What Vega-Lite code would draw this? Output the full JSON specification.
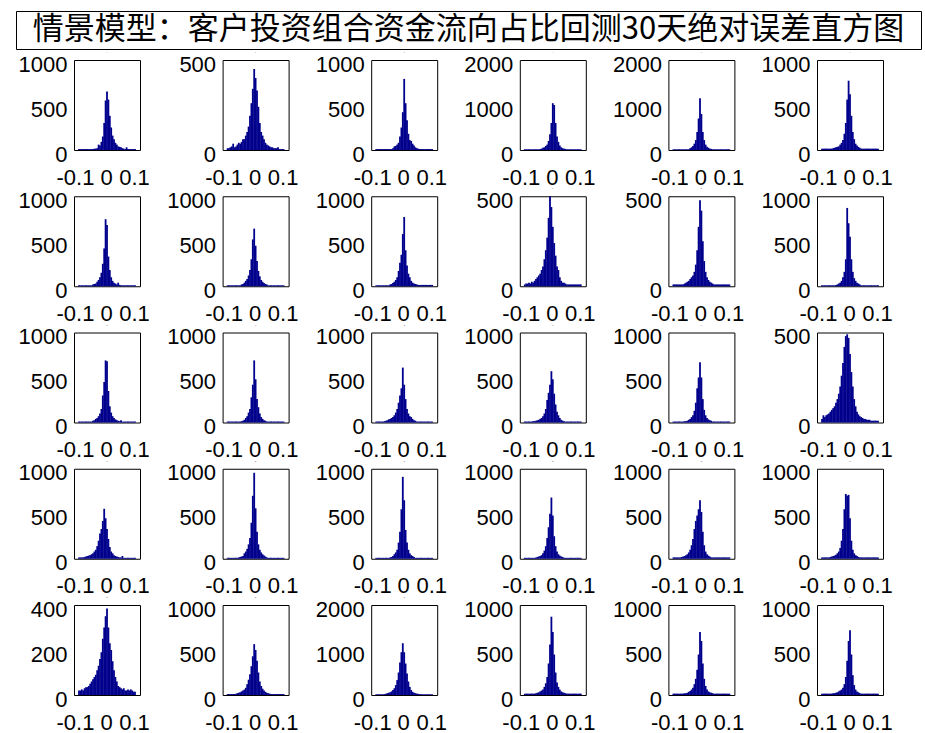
{
"$schema": "https://vega.github.io/schema/vega-lite/v6.json",
"padding": {"left": 15, "top": 10, "right": 0, "bottom": 0},
"bounds": "full",
"align": "none",
"columns": 1,
"spacing": 1,
"datasets": {
"h": [
{"p":1,"x":-0.1,"c":10},{"p":1,"x":-0.095,"c":10},{"p":1,"x":-0.09,"c":10},{"p":1,"x":-0.085,"c":10},{"p":1,"x":-0.08,"c":10},{"p":1,"x":-0.075,"c":10},{"p":1,"x":-0.07,"c":10},{"p":1,"x":-0.065,"c":10},{"p":1,"x":-0.06,"c":10},{"p":1,"x":-0.055,"c":10},{"p":1,"x":-0.05,"c":10},{"p":1,"x":-0.045,"c":15},{"p":1,"x":-0.04,"c":15},{"p":1,"x":-0.035,"c":20},{"p":1,"x":-0.03,"c":60},{"p":1,"x":-0.025,"c":50},{"p":1,"x":-0.02,"c":90},{"p":1,"x":-0.015,"c":150},{"p":1,"x":-0.01,"c":300},{"p":1,"x":-0.005,"c":550},{"p":1,"x":0,"c":650},{"p":1,"x":0.005,"c":560},{"p":1,"x":0.01,"c":380},{"p":1,"x":0.015,"c":250},{"p":1,"x":0.02,"c":160},{"p":1,"x":0.025,"c":120},{"p":1,"x":0.03,"c":80},{"p":1,"x":0.035,"c":60},{"p":1,"x":0.04,"c":40},{"p":1,"x":0.045,"c":35},{"p":1,"x":0.05,"c":30},{"p":1,"x":0.055,"c":20},{"p":1,"x":0.06,"c":15},{"p":1,"x":0.065,"c":10},{"p":1,"x":0.07,"c":30},{"p":1,"x":0.075,"c":10},{"p":1,"x":0.08,"c":10},{"p":1,"x":0.085,"c":10},{"p":1,"x":0.09,"c":10},{"p":1,"x":0.095,"c":10},{"p":1,"x":0.1,"c":10},
{"p":2,"x":-0.1,"c":10},{"p":2,"x":-0.095,"c":10},{"p":2,"x":-0.09,"c":15},{"p":2,"x":-0.085,"c":20},{"p":2,"x":-0.08,"c":35},{"p":2,"x":-0.075,"c":15},{"p":2,"x":-0.07,"c":20},{"p":2,"x":-0.065,"c":30},{"p":2,"x":-0.06,"c":40},{"p":2,"x":-0.055,"c":35},{"p":2,"x":-0.05,"c":45},{"p":2,"x":-0.045,"c":60},{"p":2,"x":-0.04,"c":60},{"p":2,"x":-0.035,"c":80},{"p":2,"x":-0.03,"c":100},{"p":2,"x":-0.025,"c":130},{"p":2,"x":-0.02,"c":190},{"p":2,"x":-0.015,"c":260},{"p":2,"x":-0.01,"c":340},{"p":2,"x":-0.005,"c":450},{"p":2,"x":0,"c":400},{"p":2,"x":0.005,"c":330},{"p":2,"x":0.01,"c":240},{"p":2,"x":0.015,"c":150},{"p":2,"x":0.02,"c":100},{"p":2,"x":0.025,"c":80},{"p":2,"x":0.03,"c":60},{"p":2,"x":0.035,"c":40},{"p":2,"x":0.04,"c":30},{"p":2,"x":0.045,"c":25},{"p":2,"x":0.05,"c":20},{"p":2,"x":0.055,"c":15},{"p":2,"x":0.06,"c":15},{"p":2,"x":0.065,"c":10},{"p":2,"x":0.07,"c":10},{"p":2,"x":0.075,"c":10},{"p":2,"x":0.08,"c":15},{"p":2,"x":0.085,"c":5},{"p":2,"x":0.09,"c":5},{"p":2,"x":0.095,"c":5},{"p":2,"x":0.1,"c":5},
{"p":3,"x":-0.1,"c":10},{"p":3,"x":-0.095,"c":10},{"p":3,"x":-0.09,"c":10},{"p":3,"x":-0.085,"c":10},{"p":3,"x":-0.08,"c":10},{"p":3,"x":-0.075,"c":10},{"p":3,"x":-0.07,"c":10},{"p":3,"x":-0.065,"c":10},{"p":3,"x":-0.06,"c":10},{"p":3,"x":-0.055,"c":10},{"p":3,"x":-0.05,"c":10},{"p":3,"x":-0.045,"c":10},{"p":3,"x":-0.04,"c":20},{"p":3,"x":-0.035,"c":40},{"p":3,"x":-0.03,"c":45},{"p":3,"x":-0.025,"c":60},{"p":3,"x":-0.02,"c":80},{"p":3,"x":-0.015,"c":150},{"p":3,"x":-0.01,"c":250},{"p":3,"x":-0.005,"c":420},{"p":3,"x":0,"c":790},{"p":3,"x":0.005,"c":520},{"p":3,"x":0.01,"c":330},{"p":3,"x":0.015,"c":180},{"p":3,"x":0.02,"c":110},{"p":3,"x":0.025,"c":100},{"p":3,"x":0.03,"c":70},{"p":3,"x":0.035,"c":50},{"p":3,"x":0.04,"c":30},{"p":3,"x":0.045,"c":20},{"p":3,"x":0.05,"c":15},{"p":3,"x":0.055,"c":10},{"p":3,"x":0.06,"c":10},{"p":3,"x":0.065,"c":10},{"p":3,"x":0.07,"c":10},{"p":3,"x":0.075,"c":10},{"p":3,"x":0.08,"c":10},{"p":3,"x":0.085,"c":10},{"p":3,"x":0.09,"c":10},{"p":3,"x":0.095,"c":10},{"p":3,"x":0.1,"c":10},
{"p":4,"x":-0.1,"c":15},{"p":4,"x":-0.095,"c":15},{"p":4,"x":-0.09,"c":15},{"p":4,"x":-0.085,"c":15},{"p":4,"x":-0.08,"c":15},{"p":4,"x":-0.075,"c":15},{"p":4,"x":-0.07,"c":15},{"p":4,"x":-0.065,"c":15},{"p":4,"x":-0.06,"c":15},{"p":4,"x":-0.055,"c":15},{"p":4,"x":-0.05,"c":15},{"p":4,"x":-0.045,"c":20},{"p":4,"x":-0.04,"c":30},{"p":4,"x":-0.035,"c":50},{"p":4,"x":-0.03,"c":60},{"p":4,"x":-0.025,"c":90},{"p":4,"x":-0.02,"c":120},{"p":4,"x":-0.015,"c":200},{"p":4,"x":-0.01,"c":350},{"p":4,"x":-0.005,"c":600},{"p":4,"x":0,"c":1040},{"p":4,"x":0.005,"c":1000},{"p":4,"x":0.01,"c":600},{"p":4,"x":0.015,"c":300},{"p":4,"x":0.02,"c":180},{"p":4,"x":0.025,"c":100},{"p":4,"x":0.03,"c":60},{"p":4,"x":0.035,"c":40},{"p":4,"x":0.04,"c":30},{"p":4,"x":0.045,"c":25},{"p":4,"x":0.05,"c":15},{"p":4,"x":0.055,"c":15},{"p":4,"x":0.06,"c":15},{"p":4,"x":0.065,"c":15},{"p":4,"x":0.07,"c":15},{"p":4,"x":0.075,"c":15},{"p":4,"x":0.08,"c":15},{"p":4,"x":0.085,"c":15},{"p":4,"x":0.09,"c":15},{"p":4,"x":0.095,"c":15},{"p":4,"x":0.1,"c":15},
{"p":5,"x":-0.1,"c":15},{"p":5,"x":-0.095,"c":15},{"p":5,"x":-0.09,"c":15},{"p":5,"x":-0.085,"c":15},{"p":5,"x":-0.08,"c":15},{"p":5,"x":-0.075,"c":15},{"p":5,"x":-0.07,"c":15},{"p":5,"x":-0.065,"c":15},{"p":5,"x":-0.06,"c":15},{"p":5,"x":-0.055,"c":15},{"p":5,"x":-0.05,"c":15},{"p":5,"x":-0.045,"c":15},{"p":5,"x":-0.04,"c":40},{"p":5,"x":-0.035,"c":60},{"p":5,"x":-0.03,"c":90},{"p":5,"x":-0.025,"c":140},{"p":5,"x":-0.02,"c":220},{"p":5,"x":-0.015,"c":400},{"p":5,"x":-0.01,"c":700},{"p":5,"x":-0.005,"c":1150},{"p":5,"x":0,"c":800},{"p":5,"x":0.005,"c":400},{"p":5,"x":0.01,"c":220},{"p":5,"x":0.015,"c":120},{"p":5,"x":0.02,"c":70},{"p":5,"x":0.025,"c":50},{"p":5,"x":0.03,"c":30},{"p":5,"x":0.035,"c":25},{"p":5,"x":0.04,"c":15},{"p":5,"x":0.045,"c":15},{"p":5,"x":0.05,"c":15},{"p":5,"x":0.055,"c":15},{"p":5,"x":0.06,"c":15},{"p":5,"x":0.065,"c":15},{"p":5,"x":0.07,"c":15},{"p":5,"x":0.075,"c":15},{"p":5,"x":0.08,"c":15},{"p":5,"x":0.085,"c":15},{"p":5,"x":0.09,"c":15},{"p":5,"x":0.095,"c":15},{"p":5,"x":0.1,"c":15},
{"p":6,"x":-0.1,"c":15},{"p":6,"x":-0.095,"c":15},{"p":6,"x":-0.09,"c":15},{"p":6,"x":-0.085,"c":15},{"p":6,"x":-0.08,"c":15},{"p":6,"x":-0.075,"c":15},{"p":6,"x":-0.07,"c":15},{"p":6,"x":-0.065,"c":15},{"p":6,"x":-0.06,"c":20},{"p":6,"x":-0.055,"c":25},{"p":6,"x":-0.05,"c":30},{"p":6,"x":-0.045,"c":35},{"p":6,"x":-0.04,"c":40},{"p":6,"x":-0.035,"c":60},{"p":6,"x":-0.03,"c":80},{"p":6,"x":-0.025,"c":110},{"p":6,"x":-0.02,"c":180},{"p":6,"x":-0.015,"c":300},{"p":6,"x":-0.01,"c":560},{"p":6,"x":-0.005,"c":770},{"p":6,"x":0,"c":620},{"p":6,"x":0.005,"c":380},{"p":6,"x":0.01,"c":200},{"p":6,"x":0.015,"c":120},{"p":6,"x":0.02,"c":70},{"p":6,"x":0.025,"c":50},{"p":6,"x":0.03,"c":35},{"p":6,"x":0.035,"c":25},{"p":6,"x":0.04,"c":15},{"p":6,"x":0.045,"c":15},{"p":6,"x":0.05,"c":15},{"p":6,"x":0.055,"c":15},{"p":6,"x":0.06,"c":15},{"p":6,"x":0.065,"c":15},{"p":6,"x":0.07,"c":15},{"p":6,"x":0.075,"c":15},{"p":6,"x":0.08,"c":15},{"p":6,"x":0.085,"c":15},{"p":6,"x":0.09,"c":15},{"p":6,"x":0.095,"c":15},{"p":6,"x":0.1,"c":15},
{"p":7,"x":-0.1,"c":10},{"p":7,"x":-0.095,"c":10},{"p":7,"x":-0.09,"c":10},{"p":7,"x":-0.085,"c":10},{"p":7,"x":-0.08,"c":10},{"p":7,"x":-0.075,"c":10},{"p":7,"x":-0.07,"c":10},{"p":7,"x":-0.065,"c":10},{"p":7,"x":-0.06,"c":10},{"p":7,"x":-0.055,"c":10},{"p":7,"x":-0.05,"c":20},{"p":7,"x":-0.045,"c":25},{"p":7,"x":-0.04,"c":30},{"p":7,"x":-0.035,"c":50},{"p":7,"x":-0.03,"c":70},{"p":7,"x":-0.025,"c":100},{"p":7,"x":-0.02,"c":150},{"p":7,"x":-0.015,"c":250},{"p":7,"x":-0.01,"c":420},{"p":7,"x":-0.005,"c":745},{"p":7,"x":0,"c":680},{"p":7,"x":0.005,"c":330},{"p":7,"x":0.01,"c":180},{"p":7,"x":0.015,"c":100},{"p":7,"x":0.02,"c":60},{"p":7,"x":0.025,"c":40},{"p":7,"x":0.03,"c":30},{"p":7,"x":0.035,"c":20},{"p":7,"x":0.04,"c":40},{"p":7,"x":0.045,"c":15},{"p":7,"x":0.05,"c":10},{"p":7,"x":0.055,"c":10},{"p":7,"x":0.06,"c":10},{"p":7,"x":0.065,"c":10},{"p":7,"x":0.07,"c":10},{"p":7,"x":0.075,"c":10},{"p":7,"x":0.08,"c":10},{"p":7,"x":0.085,"c":10},{"p":7,"x":0.09,"c":10},{"p":7,"x":0.095,"c":10},{"p":7,"x":0.1,"c":10},
{"p":8,"x":-0.1,"c":10},{"p":8,"x":-0.095,"c":10},{"p":8,"x":-0.09,"c":10},{"p":8,"x":-0.085,"c":10},{"p":8,"x":-0.08,"c":10},{"p":8,"x":-0.075,"c":10},{"p":8,"x":-0.07,"c":10},{"p":8,"x":-0.065,"c":10},{"p":8,"x":-0.06,"c":10},{"p":8,"x":-0.055,"c":10},{"p":8,"x":-0.05,"c":20},{"p":8,"x":-0.045,"c":25},{"p":8,"x":-0.04,"c":40},{"p":8,"x":-0.035,"c":60},{"p":8,"x":-0.03,"c":80},{"p":8,"x":-0.025,"c":120},{"p":8,"x":-0.02,"c":180},{"p":8,"x":-0.015,"c":300},{"p":8,"x":-0.01,"c":520},{"p":8,"x":-0.005,"c":640},{"p":8,"x":0,"c":450},{"p":8,"x":0.005,"c":280},{"p":8,"x":0.01,"c":170},{"p":8,"x":0.015,"c":110},{"p":8,"x":0.02,"c":70},{"p":8,"x":0.025,"c":50},{"p":8,"x":0.03,"c":35},{"p":8,"x":0.035,"c":25},{"p":8,"x":0.04,"c":20},{"p":8,"x":0.045,"c":10},{"p":8,"x":0.05,"c":10},{"p":8,"x":0.055,"c":10},{"p":8,"x":0.06,"c":10},{"p":8,"x":0.065,"c":10},{"p":8,"x":0.07,"c":10},{"p":8,"x":0.075,"c":10},{"p":8,"x":0.08,"c":10},{"p":8,"x":0.085,"c":10},{"p":8,"x":0.09,"c":10},{"p":8,"x":0.095,"c":10},{"p":8,"x":0.1,"c":10},
{"p":9,"x":-0.1,"c":10},{"p":9,"x":-0.095,"c":10},{"p":9,"x":-0.09,"c":10},{"p":9,"x":-0.085,"c":10},{"p":9,"x":-0.08,"c":10},{"p":9,"x":-0.075,"c":10},{"p":9,"x":-0.07,"c":10},{"p":9,"x":-0.065,"c":10},{"p":9,"x":-0.06,"c":10},{"p":9,"x":-0.055,"c":10},{"p":9,"x":-0.05,"c":20},{"p":9,"x":-0.045,"c":25},{"p":9,"x":-0.04,"c":35},{"p":9,"x":-0.035,"c":50},{"p":9,"x":-0.03,"c":70},{"p":9,"x":-0.025,"c":100},{"p":9,"x":-0.02,"c":170},{"p":9,"x":-0.015,"c":260},{"p":9,"x":-0.01,"c":350},{"p":9,"x":-0.005,"c":580},{"p":9,"x":0,"c":770},{"p":9,"x":0.005,"c":400},{"p":9,"x":0.01,"c":230},{"p":9,"x":0.015,"c":140},{"p":9,"x":0.02,"c":100},{"p":9,"x":0.025,"c":60},{"p":9,"x":0.03,"c":40},{"p":9,"x":0.035,"c":30},{"p":9,"x":0.04,"c":25},{"p":9,"x":0.045,"c":20},{"p":9,"x":0.05,"c":15},{"p":9,"x":0.055,"c":15},{"p":9,"x":0.06,"c":15},{"p":9,"x":0.065,"c":15},{"p":9,"x":0.07,"c":15},{"p":9,"x":0.075,"c":15},{"p":9,"x":0.08,"c":15},{"p":9,"x":0.085,"c":15},{"p":9,"x":0.09,"c":15},{"p":9,"x":0.095,"c":15},{"p":9,"x":0.1,"c":15},
{"p":10,"x":-0.1,"c":10},{"p":10,"x":-0.095,"c":15},{"p":10,"x":-0.09,"c":15},{"p":10,"x":-0.085,"c":20},{"p":10,"x":-0.08,"c":15},{"p":10,"x":-0.075,"c":25},{"p":10,"x":-0.07,"c":20},{"p":10,"x":-0.065,"c":30},{"p":10,"x":-0.06,"c":40},{"p":10,"x":-0.055,"c":50},{"p":10,"x":-0.05,"c":60},{"p":10,"x":-0.045,"c":70},{"p":10,"x":-0.04,"c":90},{"p":10,"x":-0.035,"c":110},{"p":10,"x":-0.03,"c":150},{"p":10,"x":-0.025,"c":200},{"p":10,"x":-0.02,"c":270},{"p":10,"x":-0.015,"c":380},{"p":10,"x":-0.01,"c":500},{"p":10,"x":-0.005,"c":440},{"p":10,"x":0,"c":330},{"p":10,"x":0.005,"c":240},{"p":10,"x":0.01,"c":170},{"p":10,"x":0.015,"c":110},{"p":10,"x":0.02,"c":90},{"p":10,"x":0.025,"c":50},{"p":10,"x":0.03,"c":30},{"p":10,"x":0.035,"c":20},{"p":10,"x":0.04,"c":20},{"p":10,"x":0.045,"c":15},{"p":10,"x":0.05,"c":10},{"p":10,"x":0.055,"c":10},{"p":10,"x":0.06,"c":10},{"p":10,"x":0.065,"c":10},{"p":10,"x":0.07,"c":10},{"p":10,"x":0.075,"c":10},{"p":10,"x":0.08,"c":10},{"p":10,"x":0.085,"c":10},{"p":10,"x":0.09,"c":10},{"p":10,"x":0.095,"c":10},{"p":10,"x":0.1,"c":10},
{"p":11,"x":-0.1,"c":10},{"p":11,"x":-0.095,"c":10},{"p":11,"x":-0.09,"c":10},{"p":11,"x":-0.085,"c":10},{"p":11,"x":-0.08,"c":10},{"p":11,"x":-0.075,"c":10},{"p":11,"x":-0.07,"c":10},{"p":11,"x":-0.065,"c":10},{"p":11,"x":-0.06,"c":15},{"p":11,"x":-0.055,"c":20},{"p":11,"x":-0.05,"c":25},{"p":11,"x":-0.045,"c":30},{"p":11,"x":-0.04,"c":40},{"p":11,"x":-0.035,"c":50},{"p":11,"x":-0.03,"c":60},{"p":11,"x":-0.025,"c":80},{"p":11,"x":-0.02,"c":120},{"p":11,"x":-0.015,"c":200},{"p":11,"x":-0.01,"c":330},{"p":11,"x":-0.005,"c":478},{"p":11,"x":0,"c":420},{"p":11,"x":0.005,"c":250},{"p":11,"x":0.01,"c":140},{"p":11,"x":0.015,"c":80},{"p":11,"x":0.02,"c":50},{"p":11,"x":0.025,"c":35},{"p":11,"x":0.03,"c":25},{"p":11,"x":0.035,"c":20},{"p":11,"x":0.04,"c":15},{"p":11,"x":0.045,"c":10},{"p":11,"x":0.05,"c":10},{"p":11,"x":0.055,"c":10},{"p":11,"x":0.06,"c":10},{"p":11,"x":0.065,"c":10},{"p":11,"x":0.07,"c":10},{"p":11,"x":0.075,"c":10},{"p":11,"x":0.08,"c":10},{"p":11,"x":0.085,"c":10},{"p":11,"x":0.09,"c":10},{"p":11,"x":0.095,"c":10},{"p":11,"x":0.1,"c":10},
{"p":12,"x":-0.1,"c":10},{"p":12,"x":-0.095,"c":10},{"p":12,"x":-0.09,"c":10},{"p":12,"x":-0.085,"c":10},{"p":12,"x":-0.08,"c":10},{"p":12,"x":-0.075,"c":10},{"p":12,"x":-0.07,"c":10},{"p":12,"x":-0.065,"c":10},{"p":12,"x":-0.06,"c":10},{"p":12,"x":-0.055,"c":10},{"p":12,"x":-0.05,"c":15},{"p":12,"x":-0.045,"c":20},{"p":12,"x":-0.04,"c":30},{"p":12,"x":-0.035,"c":40},{"p":12,"x":-0.03,"c":60},{"p":12,"x":-0.025,"c":100},{"p":12,"x":-0.02,"c":160},{"p":12,"x":-0.015,"c":300},{"p":12,"x":-0.01,"c":870},{"p":12,"x":-0.005,"c":700},{"p":12,"x":0,"c":550},{"p":12,"x":0.005,"c":300},{"p":12,"x":0.01,"c":160},{"p":12,"x":0.015,"c":90},{"p":12,"x":0.02,"c":60},{"p":12,"x":0.025,"c":40},{"p":12,"x":0.03,"c":30},{"p":12,"x":0.035,"c":20},{"p":12,"x":0.04,"c":10},{"p":12,"x":0.045,"c":10},{"p":12,"x":0.05,"c":10},{"p":12,"x":0.055,"c":10},{"p":12,"x":0.06,"c":10},{"p":12,"x":0.065,"c":10},{"p":12,"x":0.07,"c":10},{"p":12,"x":0.075,"c":10},{"p":12,"x":0.08,"c":10},{"p":12,"x":0.085,"c":10},{"p":12,"x":0.09,"c":10},{"p":12,"x":0.095,"c":10},{"p":12,"x":0.1,"c":10},
{"p":13,"x":-0.1,"c":10},{"p":13,"x":-0.095,"c":10},{"p":13,"x":-0.09,"c":10},{"p":13,"x":-0.085,"c":10},{"p":13,"x":-0.08,"c":10},{"p":13,"x":-0.075,"c":10},{"p":13,"x":-0.07,"c":10},{"p":13,"x":-0.065,"c":10},{"p":13,"x":-0.06,"c":10},{"p":13,"x":-0.055,"c":10},{"p":13,"x":-0.05,"c":20},{"p":13,"x":-0.045,"c":25},{"p":13,"x":-0.04,"c":40},{"p":13,"x":-0.035,"c":50},{"p":13,"x":-0.03,"c":70},{"p":13,"x":-0.025,"c":100},{"p":13,"x":-0.02,"c":150},{"p":13,"x":-0.015,"c":300},{"p":13,"x":-0.01,"c":450},{"p":13,"x":-0.005,"c":690},{"p":13,"x":0,"c":680},{"p":13,"x":0.005,"c":350},{"p":13,"x":0.01,"c":180},{"p":13,"x":0.015,"c":110},{"p":13,"x":0.02,"c":70},{"p":13,"x":0.025,"c":50},{"p":13,"x":0.03,"c":35},{"p":13,"x":0.035,"c":25},{"p":13,"x":0.04,"c":20},{"p":13,"x":0.045,"c":15},{"p":13,"x":0.05,"c":25},{"p":13,"x":0.055,"c":10},{"p":13,"x":0.06,"c":10},{"p":13,"x":0.065,"c":10},{"p":13,"x":0.07,"c":10},{"p":13,"x":0.075,"c":10},{"p":13,"x":0.08,"c":10},{"p":13,"x":0.085,"c":10},{"p":13,"x":0.09,"c":10},{"p":13,"x":0.095,"c":10},{"p":13,"x":0.1,"c":10},
{"p":14,"x":-0.1,"c":10},{"p":14,"x":-0.095,"c":10},{"p":14,"x":-0.09,"c":10},{"p":14,"x":-0.085,"c":10},{"p":14,"x":-0.08,"c":10},{"p":14,"x":-0.075,"c":10},{"p":14,"x":-0.07,"c":10},{"p":14,"x":-0.065,"c":10},{"p":14,"x":-0.06,"c":10},{"p":14,"x":-0.055,"c":10},{"p":14,"x":-0.05,"c":15},{"p":14,"x":-0.045,"c":20},{"p":14,"x":-0.04,"c":30},{"p":14,"x":-0.035,"c":50},{"p":14,"x":-0.03,"c":70},{"p":14,"x":-0.025,"c":110},{"p":14,"x":-0.02,"c":150},{"p":14,"x":-0.015,"c":280},{"p":14,"x":-0.01,"c":420},{"p":14,"x":-0.005,"c":690},{"p":14,"x":0,"c":480},{"p":14,"x":0.005,"c":260},{"p":14,"x":0.01,"c":170},{"p":14,"x":0.015,"c":100},{"p":14,"x":0.02,"c":60},{"p":14,"x":0.025,"c":40},{"p":14,"x":0.03,"c":25},{"p":14,"x":0.035,"c":20},{"p":14,"x":0.04,"c":10},{"p":14,"x":0.045,"c":10},{"p":14,"x":0.05,"c":10},{"p":14,"x":0.055,"c":10},{"p":14,"x":0.06,"c":10},{"p":14,"x":0.065,"c":10},{"p":14,"x":0.07,"c":10},{"p":14,"x":0.075,"c":10},{"p":14,"x":0.08,"c":10},{"p":14,"x":0.085,"c":10},{"p":14,"x":0.09,"c":10},{"p":14,"x":0.095,"c":10},{"p":14,"x":0.1,"c":10},
{"p":15,"x":-0.1,"c":10},{"p":15,"x":-0.095,"c":10},{"p":15,"x":-0.09,"c":10},{"p":15,"x":-0.085,"c":10},{"p":15,"x":-0.08,"c":10},{"p":15,"x":-0.075,"c":10},{"p":15,"x":-0.07,"c":15},{"p":15,"x":-0.065,"c":20},{"p":15,"x":-0.06,"c":25},{"p":15,"x":-0.055,"c":35},{"p":15,"x":-0.05,"c":40},{"p":15,"x":-0.045,"c":50},{"p":15,"x":-0.04,"c":60},{"p":15,"x":-0.035,"c":80},{"p":15,"x":-0.03,"c":110},{"p":15,"x":-0.025,"c":150},{"p":15,"x":-0.02,"c":220},{"p":15,"x":-0.015,"c":300},{"p":15,"x":-0.01,"c":380},{"p":15,"x":-0.005,"c":610},{"p":15,"x":0,"c":420},{"p":15,"x":0.005,"c":260},{"p":15,"x":0.01,"c":150},{"p":15,"x":0.015,"c":100},{"p":15,"x":0.02,"c":70},{"p":15,"x":0.025,"c":60},{"p":15,"x":0.03,"c":40},{"p":15,"x":0.035,"c":25},{"p":15,"x":0.04,"c":20},{"p":15,"x":0.045,"c":10},{"p":15,"x":0.05,"c":10},{"p":15,"x":0.055,"c":10},{"p":15,"x":0.06,"c":10},{"p":15,"x":0.065,"c":10},{"p":15,"x":0.07,"c":10},{"p":15,"x":0.075,"c":10},{"p":15,"x":0.08,"c":10},{"p":15,"x":0.085,"c":10},{"p":15,"x":0.09,"c":10},{"p":15,"x":0.095,"c":10},{"p":15,"x":0.1,"c":10},
{"p":16,"x":-0.1,"c":10},{"p":16,"x":-0.095,"c":10},{"p":16,"x":-0.09,"c":10},{"p":16,"x":-0.085,"c":10},{"p":16,"x":-0.08,"c":10},{"p":16,"x":-0.075,"c":10},{"p":16,"x":-0.07,"c":15},{"p":16,"x":-0.065,"c":15},{"p":16,"x":-0.06,"c":20},{"p":16,"x":-0.055,"c":25},{"p":16,"x":-0.05,"c":30},{"p":16,"x":-0.045,"c":40},{"p":16,"x":-0.04,"c":50},{"p":16,"x":-0.035,"c":70},{"p":16,"x":-0.03,"c":100},{"p":16,"x":-0.025,"c":150},{"p":16,"x":-0.02,"c":250},{"p":16,"x":-0.015,"c":330},{"p":16,"x":-0.01,"c":420},{"p":16,"x":-0.005,"c":570},{"p":16,"x":0,"c":480},{"p":16,"x":0.005,"c":320},{"p":16,"x":0.01,"c":200},{"p":16,"x":0.015,"c":120},{"p":16,"x":0.02,"c":80},{"p":16,"x":0.025,"c":50},{"p":16,"x":0.03,"c":30},{"p":16,"x":0.035,"c":20},{"p":16,"x":0.04,"c":15},{"p":16,"x":0.045,"c":10},{"p":16,"x":0.05,"c":10},{"p":16,"x":0.055,"c":10},{"p":16,"x":0.06,"c":10},{"p":16,"x":0.065,"c":10},{"p":16,"x":0.07,"c":10},{"p":16,"x":0.075,"c":10},{"p":16,"x":0.08,"c":10},{"p":16,"x":0.085,"c":10},{"p":16,"x":0.09,"c":10},{"p":16,"x":0.095,"c":10},{"p":16,"x":0.1,"c":10},
{"p":17,"x":-0.1,"c":10},{"p":17,"x":-0.095,"c":10},{"p":17,"x":-0.09,"c":10},{"p":17,"x":-0.085,"c":10},{"p":17,"x":-0.08,"c":10},{"p":17,"x":-0.075,"c":10},{"p":17,"x":-0.07,"c":10},{"p":17,"x":-0.065,"c":10},{"p":17,"x":-0.06,"c":15},{"p":17,"x":-0.055,"c":15},{"p":17,"x":-0.05,"c":20},{"p":17,"x":-0.045,"c":30},{"p":17,"x":-0.04,"c":40},{"p":17,"x":-0.035,"c":60},{"p":17,"x":-0.03,"c":80},{"p":17,"x":-0.025,"c":130},{"p":17,"x":-0.02,"c":220},{"p":17,"x":-0.015,"c":380},{"p":17,"x":-0.01,"c":500},{"p":17,"x":-0.005,"c":670},{"p":17,"x":0,"c":500},{"p":17,"x":0.005,"c":260},{"p":17,"x":0.01,"c":140},{"p":17,"x":0.015,"c":80},{"p":17,"x":0.02,"c":50},{"p":17,"x":0.025,"c":35},{"p":17,"x":0.03,"c":25},{"p":17,"x":0.035,"c":20},{"p":17,"x":0.04,"c":10},{"p":17,"x":0.045,"c":10},{"p":17,"x":0.05,"c":10},{"p":17,"x":0.055,"c":10},{"p":17,"x":0.06,"c":10},{"p":17,"x":0.065,"c":10},{"p":17,"x":0.07,"c":10},{"p":17,"x":0.075,"c":10},{"p":17,"x":0.08,"c":10},{"p":17,"x":0.085,"c":10},{"p":17,"x":0.09,"c":10},{"p":17,"x":0.095,"c":10},{"p":17,"x":0.1,"c":10},
{"p":18,"x":-0.1,"c":20},{"p":18,"x":-0.095,"c":40},{"p":18,"x":-0.09,"c":30},{"p":18,"x":-0.085,"c":40},{"p":18,"x":-0.08,"c":45},{"p":18,"x":-0.075,"c":50},{"p":18,"x":-0.07,"c":60},{"p":18,"x":-0.065,"c":70},{"p":18,"x":-0.06,"c":80},{"p":18,"x":-0.055,"c":90},{"p":18,"x":-0.05,"c":110},{"p":18,"x":-0.045,"c":130},{"p":18,"x":-0.04,"c":160},{"p":18,"x":-0.035,"c":200},{"p":18,"x":-0.03,"c":260},{"p":18,"x":-0.025,"c":330},{"p":18,"x":-0.02,"c":420},{"p":18,"x":-0.015,"c":480},{"p":18,"x":-0.01,"c":490},{"p":18,"x":-0.005,"c":470},{"p":18,"x":0,"c":380},{"p":18,"x":0.005,"c":280},{"p":18,"x":0.01,"c":200},{"p":18,"x":0.015,"c":130},{"p":18,"x":0.02,"c":90},{"p":18,"x":0.025,"c":60},{"p":18,"x":0.03,"c":45},{"p":18,"x":0.035,"c":35},{"p":18,"x":0.04,"c":30},{"p":18,"x":0.045,"c":25},{"p":18,"x":0.05,"c":20},{"p":18,"x":0.055,"c":20},{"p":18,"x":0.06,"c":15},{"p":18,"x":0.065,"c":15},{"p":18,"x":0.07,"c":15},{"p":18,"x":0.075,"c":10},{"p":18,"x":0.08,"c":10},{"p":18,"x":0.085,"c":10},{"p":18,"x":0.09,"c":10},{"p":18,"x":0.095,"c":10},{"p":18,"x":0.1,"c":10},
{"p":19,"x":-0.1,"c":15},{"p":19,"x":-0.095,"c":15},{"p":19,"x":-0.09,"c":15},{"p":19,"x":-0.085,"c":15},{"p":19,"x":-0.08,"c":20},{"p":19,"x":-0.075,"c":25},{"p":19,"x":-0.07,"c":30},{"p":19,"x":-0.065,"c":35},{"p":19,"x":-0.06,"c":40},{"p":19,"x":-0.055,"c":50},{"p":19,"x":-0.05,"c":60},{"p":19,"x":-0.045,"c":80},{"p":19,"x":-0.04,"c":100},{"p":19,"x":-0.035,"c":140},{"p":19,"x":-0.03,"c":200},{"p":19,"x":-0.025,"c":280},{"p":19,"x":-0.02,"c":330},{"p":19,"x":-0.015,"c":420},{"p":19,"x":-0.01,"c":555},{"p":19,"x":-0.005,"c":450},{"p":19,"x":0,"c":330},{"p":19,"x":0.005,"c":220},{"p":19,"x":0.01,"c":130},{"p":19,"x":0.015,"c":80},{"p":19,"x":0.02,"c":60},{"p":19,"x":0.025,"c":40},{"p":19,"x":0.03,"c":30},{"p":19,"x":0.035,"c":25},{"p":19,"x":0.04,"c":20},{"p":19,"x":0.045,"c":15},{"p":19,"x":0.05,"c":15},{"p":19,"x":0.055,"c":30},{"p":19,"x":0.06,"c":10},{"p":19,"x":0.065,"c":10},{"p":19,"x":0.07,"c":10},{"p":19,"x":0.075,"c":10},{"p":19,"x":0.08,"c":10},{"p":19,"x":0.085,"c":10},{"p":19,"x":0.09,"c":10},{"p":19,"x":0.095,"c":10},{"p":19,"x":0.1,"c":10},
{"p":20,"x":-0.1,"c":10},{"p":20,"x":-0.095,"c":10},{"p":20,"x":-0.09,"c":10},{"p":20,"x":-0.085,"c":10},{"p":20,"x":-0.08,"c":10},{"p":20,"x":-0.075,"c":10},{"p":20,"x":-0.07,"c":10},{"p":20,"x":-0.065,"c":10},{"p":20,"x":-0.06,"c":15},{"p":20,"x":-0.055,"c":20},{"p":20,"x":-0.05,"c":25},{"p":20,"x":-0.045,"c":30},{"p":20,"x":-0.04,"c":60},{"p":20,"x":-0.035,"c":80},{"p":20,"x":-0.03,"c":110},{"p":20,"x":-0.025,"c":160},{"p":20,"x":-0.02,"c":230},{"p":20,"x":-0.015,"c":400},{"p":20,"x":-0.01,"c":700},{"p":20,"x":-0.005,"c":955},{"p":20,"x":0,"c":560},{"p":20,"x":0.005,"c":300},{"p":20,"x":0.01,"c":160},{"p":20,"x":0.015,"c":100},{"p":20,"x":0.02,"c":70},{"p":20,"x":0.025,"c":50},{"p":20,"x":0.03,"c":35},{"p":20,"x":0.035,"c":25},{"p":20,"x":0.04,"c":15},{"p":20,"x":0.045,"c":10},{"p":20,"x":0.05,"c":10},{"p":20,"x":0.055,"c":10},{"p":20,"x":0.06,"c":10},{"p":20,"x":0.065,"c":10},{"p":20,"x":0.07,"c":10},{"p":20,"x":0.075,"c":10},{"p":20,"x":0.08,"c":10},{"p":20,"x":0.085,"c":10},{"p":20,"x":0.09,"c":10},{"p":20,"x":0.095,"c":10},{"p":20,"x":0.1,"c":10},
{"p":21,"x":-0.1,"c":10},{"p":21,"x":-0.095,"c":10},{"p":21,"x":-0.09,"c":10},{"p":21,"x":-0.085,"c":10},{"p":21,"x":-0.08,"c":10},{"p":21,"x":-0.075,"c":10},{"p":21,"x":-0.07,"c":10},{"p":21,"x":-0.065,"c":10},{"p":21,"x":-0.06,"c":10},{"p":21,"x":-0.055,"c":10},{"p":21,"x":-0.05,"c":15},{"p":21,"x":-0.045,"c":20},{"p":21,"x":-0.04,"c":30},{"p":21,"x":-0.035,"c":50},{"p":21,"x":-0.03,"c":70},{"p":21,"x":-0.025,"c":100},{"p":21,"x":-0.02,"c":180},{"p":21,"x":-0.015,"c":300},{"p":21,"x":-0.01,"c":550},{"p":21,"x":-0.005,"c":910},{"p":21,"x":0,"c":650},{"p":21,"x":0.005,"c":320},{"p":21,"x":0.01,"c":180},{"p":21,"x":0.015,"c":100},{"p":21,"x":0.02,"c":60},{"p":21,"x":0.025,"c":40},{"p":21,"x":0.03,"c":30},{"p":21,"x":0.035,"c":20},{"p":21,"x":0.04,"c":10},{"p":21,"x":0.045,"c":10},{"p":21,"x":0.05,"c":10},{"p":21,"x":0.055,"c":10},{"p":21,"x":0.06,"c":10},{"p":21,"x":0.065,"c":10},{"p":21,"x":0.07,"c":10},{"p":21,"x":0.075,"c":10},{"p":21,"x":0.08,"c":10},{"p":21,"x":0.085,"c":10},{"p":21,"x":0.09,"c":10},{"p":21,"x":0.095,"c":10},{"p":21,"x":0.1,"c":10},
{"p":22,"x":-0.1,"c":10},{"p":22,"x":-0.095,"c":10},{"p":22,"x":-0.09,"c":10},{"p":22,"x":-0.085,"c":10},{"p":22,"x":-0.08,"c":10},{"p":22,"x":-0.075,"c":10},{"p":22,"x":-0.07,"c":10},{"p":22,"x":-0.065,"c":10},{"p":22,"x":-0.06,"c":15},{"p":22,"x":-0.055,"c":20},{"p":22,"x":-0.05,"c":25},{"p":22,"x":-0.045,"c":30},{"p":22,"x":-0.04,"c":40},{"p":22,"x":-0.035,"c":60},{"p":22,"x":-0.03,"c":90},{"p":22,"x":-0.025,"c":140},{"p":22,"x":-0.02,"c":230},{"p":22,"x":-0.015,"c":350},{"p":22,"x":-0.01,"c":500},{"p":22,"x":-0.005,"c":680},{"p":22,"x":0,"c":480},{"p":22,"x":0.005,"c":250},{"p":22,"x":0.01,"c":140},{"p":22,"x":0.015,"c":80},{"p":22,"x":0.02,"c":50},{"p":22,"x":0.025,"c":35},{"p":22,"x":0.03,"c":25},{"p":22,"x":0.035,"c":20},{"p":22,"x":0.04,"c":10},{"p":22,"x":0.045,"c":10},{"p":22,"x":0.05,"c":10},{"p":22,"x":0.055,"c":10},{"p":22,"x":0.06,"c":10},{"p":22,"x":0.065,"c":10},{"p":22,"x":0.07,"c":10},{"p":22,"x":0.075,"c":10},{"p":22,"x":0.08,"c":10},{"p":22,"x":0.085,"c":10},{"p":22,"x":0.09,"c":10},{"p":22,"x":0.095,"c":10},{"p":22,"x":0.1,"c":10},
{"p":23,"x":-0.1,"c":15},{"p":23,"x":-0.095,"c":15},{"p":23,"x":-0.09,"c":15},{"p":23,"x":-0.085,"c":15},{"p":23,"x":-0.08,"c":15},{"p":23,"x":-0.075,"c":15},{"p":23,"x":-0.07,"c":20},{"p":23,"x":-0.065,"c":25},{"p":23,"x":-0.06,"c":30},{"p":23,"x":-0.055,"c":40},{"p":23,"x":-0.05,"c":50},{"p":23,"x":-0.045,"c":70},{"p":23,"x":-0.04,"c":100},{"p":23,"x":-0.035,"c":150},{"p":23,"x":-0.03,"c":220},{"p":23,"x":-0.025,"c":330},{"p":23,"x":-0.02,"c":420},{"p":23,"x":-0.015,"c":480},{"p":23,"x":-0.01,"c":550},{"p":23,"x":-0.005,"c":650},{"p":23,"x":0,"c":520},{"p":23,"x":0.005,"c":300},{"p":23,"x":0.01,"c":150},{"p":23,"x":0.015,"c":80},{"p":23,"x":0.02,"c":50},{"p":23,"x":0.025,"c":35},{"p":23,"x":0.03,"c":25},{"p":23,"x":0.035,"c":15},{"p":23,"x":0.04,"c":15},{"p":23,"x":0.045,"c":15},{"p":23,"x":0.05,"c":15},{"p":23,"x":0.055,"c":15},{"p":23,"x":0.06,"c":15},{"p":23,"x":0.065,"c":15},{"p":23,"x":0.07,"c":15},{"p":23,"x":0.075,"c":15},{"p":23,"x":0.08,"c":15},{"p":23,"x":0.085,"c":15},{"p":23,"x":0.09,"c":15},{"p":23,"x":0.095,"c":15},{"p":23,"x":0.1,"c":15},
{"p":24,"x":-0.1,"c":15},{"p":24,"x":-0.095,"c":15},{"p":24,"x":-0.09,"c":15},{"p":24,"x":-0.085,"c":15},{"p":24,"x":-0.08,"c":15},{"p":24,"x":-0.075,"c":15},{"p":24,"x":-0.07,"c":20},{"p":24,"x":-0.065,"c":25},{"p":24,"x":-0.06,"c":30},{"p":24,"x":-0.055,"c":35},{"p":24,"x":-0.05,"c":45},{"p":24,"x":-0.045,"c":60},{"p":24,"x":-0.04,"c":80},{"p":24,"x":-0.035,"c":120},{"p":24,"x":-0.03,"c":200},{"p":24,"x":-0.025,"c":330},{"p":24,"x":-0.02,"c":550},{"p":24,"x":-0.015,"c":720},{"p":24,"x":-0.01,"c":700},{"p":24,"x":-0.005,"c":710},{"p":24,"x":0,"c":450},{"p":24,"x":0.005,"c":200},{"p":24,"x":0.01,"c":100},{"p":24,"x":0.015,"c":60},{"p":24,"x":0.02,"c":40},{"p":24,"x":0.025,"c":30},{"p":24,"x":0.03,"c":20},{"p":24,"x":0.035,"c":15},{"p":24,"x":0.04,"c":15},{"p":24,"x":0.045,"c":15},{"p":24,"x":0.05,"c":15},{"p":24,"x":0.055,"c":15},{"p":24,"x":0.06,"c":15},{"p":24,"x":0.065,"c":15},{"p":24,"x":0.07,"c":15},{"p":24,"x":0.075,"c":15},{"p":24,"x":0.08,"c":15},{"p":24,"x":0.085,"c":15},{"p":24,"x":0.09,"c":15},{"p":24,"x":0.095,"c":15},{"p":24,"x":0.1,"c":15},
{"p":25,"x":-0.1,"c":20},{"p":25,"x":-0.095,"c":20},{"p":25,"x":-0.09,"c":25},{"p":25,"x":-0.085,"c":20},{"p":25,"x":-0.08,"c":30},{"p":25,"x":-0.075,"c":35},{"p":25,"x":-0.07,"c":35},{"p":25,"x":-0.065,"c":40},{"p":25,"x":-0.06,"c":50},{"p":25,"x":-0.055,"c":60},{"p":25,"x":-0.05,"c":70},{"p":25,"x":-0.045,"c":80},{"p":25,"x":-0.04,"c":90},{"p":25,"x":-0.035,"c":110},{"p":25,"x":-0.03,"c":130},{"p":25,"x":-0.025,"c":160},{"p":25,"x":-0.02,"c":190},{"p":25,"x":-0.015,"c":250},{"p":25,"x":-0.01,"c":300},{"p":25,"x":-0.005,"c":350},{"p":25,"x":0,"c":385},{"p":25,"x":0.005,"c":300},{"p":25,"x":0.01,"c":230},{"p":25,"x":0.015,"c":200},{"p":25,"x":0.02,"c":150},{"p":25,"x":0.025,"c":110},{"p":25,"x":0.03,"c":80},{"p":25,"x":0.035,"c":60},{"p":25,"x":0.04,"c":40},{"p":25,"x":0.045,"c":35},{"p":25,"x":0.05,"c":30},{"p":25,"x":0.055,"c":25},{"p":25,"x":0.06,"c":30},{"p":25,"x":0.065,"c":20},{"p":25,"x":0.07,"c":20},{"p":25,"x":0.075,"c":25},{"p":25,"x":0.08,"c":20},{"p":25,"x":0.085,"c":25},{"p":25,"x":0.09,"c":20},{"p":25,"x":0.095,"c":15},{"p":25,"x":0.1,"c":15},
{"p":26,"x":-0.1,"c":10},{"p":26,"x":-0.095,"c":10},{"p":26,"x":-0.09,"c":10},{"p":26,"x":-0.085,"c":10},{"p":26,"x":-0.08,"c":10},{"p":26,"x":-0.075,"c":10},{"p":26,"x":-0.07,"c":15},{"p":26,"x":-0.065,"c":20},{"p":26,"x":-0.06,"c":25},{"p":26,"x":-0.055,"c":30},{"p":26,"x":-0.05,"c":40},{"p":26,"x":-0.045,"c":50},{"p":26,"x":-0.04,"c":60},{"p":26,"x":-0.035,"c":80},{"p":26,"x":-0.03,"c":120},{"p":26,"x":-0.025,"c":170},{"p":26,"x":-0.02,"c":230},{"p":26,"x":-0.015,"c":320},{"p":26,"x":-0.01,"c":430},{"p":26,"x":-0.005,"c":565},{"p":26,"x":0,"c":500},{"p":26,"x":0.005,"c":380},{"p":26,"x":0.01,"c":250},{"p":26,"x":0.015,"c":150},{"p":26,"x":0.02,"c":100},{"p":26,"x":0.025,"c":70},{"p":26,"x":0.03,"c":50},{"p":26,"x":0.035,"c":35},{"p":26,"x":0.04,"c":25},{"p":26,"x":0.045,"c":20},{"p":26,"x":0.05,"c":15},{"p":26,"x":0.055,"c":10},{"p":26,"x":0.06,"c":10},{"p":26,"x":0.065,"c":10},{"p":26,"x":0.07,"c":10},{"p":26,"x":0.075,"c":10},{"p":26,"x":0.08,"c":10},{"p":26,"x":0.085,"c":10},{"p":26,"x":0.09,"c":10},{"p":26,"x":0.095,"c":10},{"p":26,"x":0.1,"c":10},
{"p":27,"x":-0.1,"c":15},{"p":27,"x":-0.095,"c":15},{"p":27,"x":-0.09,"c":15},{"p":27,"x":-0.085,"c":15},{"p":27,"x":-0.08,"c":15},{"p":27,"x":-0.075,"c":15},{"p":27,"x":-0.07,"c":20},{"p":27,"x":-0.065,"c":30},{"p":27,"x":-0.06,"c":40},{"p":27,"x":-0.055,"c":50},{"p":27,"x":-0.05,"c":60},{"p":27,"x":-0.045,"c":80},{"p":27,"x":-0.04,"c":110},{"p":27,"x":-0.035,"c":150},{"p":27,"x":-0.03,"c":220},{"p":27,"x":-0.025,"c":330},{"p":27,"x":-0.02,"c":500},{"p":27,"x":-0.015,"c":720},{"p":27,"x":-0.01,"c":950},{"p":27,"x":-0.005,"c":1150},{"p":27,"x":0,"c":950},{"p":27,"x":0.005,"c":700},{"p":27,"x":0.01,"c":480},{"p":27,"x":0.015,"c":300},{"p":27,"x":0.02,"c":180},{"p":27,"x":0.025,"c":110},{"p":27,"x":0.03,"c":70},{"p":27,"x":0.035,"c":50},{"p":27,"x":0.04,"c":40},{"p":27,"x":0.045,"c":30},{"p":27,"x":0.05,"c":25},{"p":27,"x":0.055,"c":20},{"p":27,"x":0.06,"c":15},{"p":27,"x":0.065,"c":15},{"p":27,"x":0.07,"c":15},{"p":27,"x":0.075,"c":15},{"p":27,"x":0.08,"c":15},{"p":27,"x":0.085,"c":15},{"p":27,"x":0.09,"c":15},{"p":27,"x":0.095,"c":15},{"p":27,"x":0.1,"c":15},
{"p":28,"x":-0.1,"c":15},{"p":28,"x":-0.095,"c":15},{"p":28,"x":-0.09,"c":15},{"p":28,"x":-0.085,"c":15},{"p":28,"x":-0.08,"c":15},{"p":28,"x":-0.075,"c":15},{"p":28,"x":-0.07,"c":15},{"p":28,"x":-0.065,"c":15},{"p":28,"x":-0.06,"c":20},{"p":28,"x":-0.055,"c":25},{"p":28,"x":-0.05,"c":30},{"p":28,"x":-0.045,"c":40},{"p":28,"x":-0.04,"c":50},{"p":28,"x":-0.035,"c":60},{"p":28,"x":-0.03,"c":90},{"p":28,"x":-0.025,"c":130},{"p":28,"x":-0.02,"c":200},{"p":28,"x":-0.015,"c":350},{"p":28,"x":-0.01,"c":560},{"p":28,"x":-0.005,"c":870},{"p":28,"x":0,"c":700},{"p":28,"x":0.005,"c":450},{"p":28,"x":0.01,"c":250},{"p":28,"x":0.015,"c":140},{"p":28,"x":0.02,"c":90},{"p":28,"x":0.025,"c":60},{"p":28,"x":0.03,"c":40},{"p":28,"x":0.035,"c":30},{"p":28,"x":0.04,"c":25},{"p":28,"x":0.045,"c":20},{"p":28,"x":0.05,"c":15},{"p":28,"x":0.055,"c":15},{"p":28,"x":0.06,"c":15},{"p":28,"x":0.065,"c":15},{"p":28,"x":0.07,"c":15},{"p":28,"x":0.075,"c":15},{"p":28,"x":0.08,"c":15},{"p":28,"x":0.085,"c":15},{"p":28,"x":0.09,"c":15},{"p":28,"x":0.095,"c":15},{"p":28,"x":0.1,"c":15},
{"p":29,"x":-0.1,"c":15},{"p":29,"x":-0.095,"c":15},{"p":29,"x":-0.09,"c":15},{"p":29,"x":-0.085,"c":15},{"p":29,"x":-0.08,"c":15},{"p":29,"x":-0.075,"c":15},{"p":29,"x":-0.07,"c":15},{"p":29,"x":-0.065,"c":15},{"p":29,"x":-0.06,"c":20},{"p":29,"x":-0.055,"c":20},{"p":29,"x":-0.05,"c":25},{"p":29,"x":-0.045,"c":35},{"p":29,"x":-0.04,"c":45},{"p":29,"x":-0.035,"c":60},{"p":29,"x":-0.03,"c":80},{"p":29,"x":-0.025,"c":120},{"p":29,"x":-0.02,"c":180},{"p":29,"x":-0.015,"c":280},{"p":29,"x":-0.01,"c":450},{"p":29,"x":-0.005,"c":700},{"p":29,"x":0,"c":600},{"p":29,"x":0.005,"c":350},{"p":29,"x":0.01,"c":180},{"p":29,"x":0.015,"c":100},{"p":29,"x":0.02,"c":60},{"p":29,"x":0.025,"c":40},{"p":29,"x":0.03,"c":30},{"p":29,"x":0.035,"c":25},{"p":29,"x":0.04,"c":20},{"p":29,"x":0.045,"c":15},{"p":29,"x":0.05,"c":15},{"p":29,"x":0.055,"c":15},{"p":29,"x":0.06,"c":15},{"p":29,"x":0.065,"c":15},{"p":29,"x":0.07,"c":15},{"p":29,"x":0.075,"c":15},{"p":29,"x":0.08,"c":15},{"p":29,"x":0.085,"c":15},{"p":29,"x":0.09,"c":15},{"p":29,"x":0.095,"c":15},{"p":29,"x":0.1,"c":15},
{"p":30,"x":-0.1,"c":15},{"p":30,"x":-0.095,"c":15},{"p":30,"x":-0.09,"c":15},{"p":30,"x":-0.085,"c":15},{"p":30,"x":-0.08,"c":15},{"p":30,"x":-0.075,"c":15},{"p":30,"x":-0.07,"c":15},{"p":30,"x":-0.065,"c":15},{"p":30,"x":-0.06,"c":20},{"p":30,"x":-0.055,"c":20},{"p":30,"x":-0.05,"c":25},{"p":30,"x":-0.045,"c":30},{"p":30,"x":-0.04,"c":40},{"p":30,"x":-0.035,"c":50},{"p":30,"x":-0.03,"c":60},{"p":30,"x":-0.025,"c":80},{"p":30,"x":-0.02,"c":120},{"p":30,"x":-0.015,"c":200},{"p":30,"x":-0.01,"c":380},{"p":30,"x":-0.005,"c":600},{"p":30,"x":0,"c":720},{"p":30,"x":0.005,"c":450},{"p":30,"x":0.01,"c":220},{"p":30,"x":0.015,"c":110},{"p":30,"x":0.02,"c":60},{"p":30,"x":0.025,"c":40},{"p":30,"x":0.03,"c":30},{"p":30,"x":0.035,"c":20},{"p":30,"x":0.04,"c":15},{"p":30,"x":0.045,"c":15},{"p":30,"x":0.05,"c":15},{"p":30,"x":0.055,"c":15},{"p":30,"x":0.06,"c":15},{"p":30,"x":0.065,"c":15},{"p":30,"x":0.07,"c":15},{"p":30,"x":0.075,"c":15},{"p":30,"x":0.08,"c":15},{"p":30,"x":0.085,"c":15},{"p":30,"x":0.09,"c":15},{"p":30,"x":0.095,"c":15},{"p":30,"x":0.1,"c":15},
{"p":1,"m":1000},{"p":2,"m":500},{"p":3,"m":1000},{"p":4,"m":2000},{"p":5,"m":2000},{"p":6,"m":1000},
{"p":7,"m":1000},{"p":8,"m":1000},{"p":9,"m":1000},{"p":10,"m":500},{"p":11,"m":500},{"p":12,"m":1000},
{"p":13,"m":1000},{"p":14,"m":1000},{"p":15,"m":1000},{"p":16,"m":1000},{"p":17,"m":1000},{"p":18,"m":500},
{"p":19,"m":1000},{"p":20,"m":1000},{"p":21,"m":1000},{"p":22,"m":1000},{"p":23,"m":1000},{"p":24,"m":1000},
{"p":25,"m":400},{"p":26,"m":1000},{"p":27,"m":2000},{"p":28,"m":1000},{"p":29,"m":1000},{"p":30,"m":1000}
]
},
"concat": [
{
"width": 905,
"height": 38,
"view": {"stroke": "#000000", "strokeWidth": 1, "fill": null},
"data": {"values": [{"t": "情景模型：客户投资组合资金流向占比回测30天绝对误差直方图"}]},
"mark": {"type": "text", "font": "Noto Sans CJK SC", "fontSize": 31, "color": "#000000"},
"encoding": {"text": {"field": "t", "type": "nominal"}}
},
{
"bounds": "full",
"spacing": 0,
"hconcat": [
{
"width": 1,
"height": 1,
"view": {"stroke": null, "fill": null},
"data": {"values": []},
"mark": {"type": "point", "opacity": 0},
"encoding": {}
},
{
"data": {"name": "h"},
"bounds": "flush",
"columns": 6,
"spacing": {"row": 46.25, "column": 82.6},
"facet": {"field": "p", "type": "ordinal", "header": {"labels": false, "title": null, "labelFontSize": 1, "labelPadding": 0}},
"spec": {
"width": 66,
"height": 90,
"layer": [
{
"transform": [{"filter": "isValid(datum.c)"}],
"mark": {"type": "bar", "color": "#00008C", "size": 1.8, "orient": "vertical"},
"encoding": {
"x": {"field": "x", "type": "quantitative", "scale": {"domain": [-0.1, 0.1], "nice": false, "zero": false},
"axis": {"title": null, "values": [-0.1, 0, 0.1], "labelExpr": "(datum.value < 0 ? '-' : '') + format(abs(datum.value), '~g')", "labelPadding": 17, "labelFlush": false, "labelOverlap": false,
"labelOffset": {"condition": {"test": "datum.value < 0", "value": -4}, "value": -1}}},
"y": {"field": "c", "type": "quantitative", "scale": {"nice": false, "zero": true},
"axis": {"title": null, "tickCount": 1.5, "format": "d", "labelPadding": 7, "labelOffset": 4, "labelOverlap": false}}
}
},
{
"transform": [{"filter": "isValid(datum.m)"}],
"mark": {"type": "rule", "opacity": 0},
"encoding": {
"y": {"field": "m", "type": "quantitative",
"axis": {"title": null, "tickCount": 1.5, "format": "d", "labelPadding": 7, "labelOffset": 4, "labelOverlap": false}}
}
}
]
},
"resolve": {"scale": {"y": "independent"}, "axis": {"x": "independent", "y": "independent"}}
}
]
}
],
"config": {
"font": "Liberation Sans",
"view": {"stroke": "#000000", "strokeWidth": 1},
"axis": {"grid": false, "domain": false, "ticks": false, "tickSize": 0, "labelFont": "Liberation Sans", "labelFontSize": 22, "labelColor": "#000000"}
}
}
